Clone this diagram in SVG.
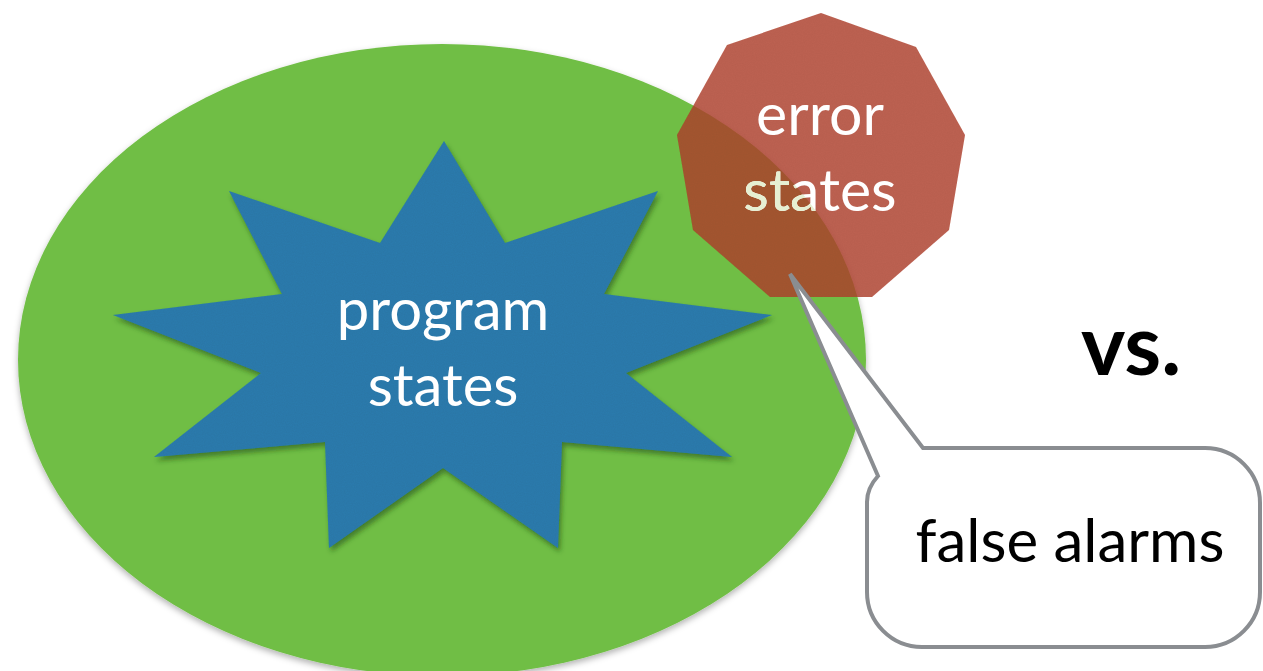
<svg xmlns="http://www.w3.org/2000/svg" width="1263" height="671" viewBox="0 0 1263 671">
  <defs>
    <filter id="ellShadow" x="-10%" y="-10%" width="120%" height="125%">
      <feDropShadow dx="0" dy="3" stdDeviation="3" flood-color="#000" flood-opacity="0.3"/>
    </filter>
    <filter id="starShadow" x="-10%" y="-10%" width="125%" height="125%">
      <feTurbulence type="fractalNoise" baseFrequency="0.9" numOctaves="2" seed="3" result="noise"/>
      <feColorMatrix in="noise" type="matrix" values="0 0 0 0 0  0 0 0 0 0  0 0 0 0 0  0 0 0 0.12 0" result="grain"/>
      <feComposite in="grain" in2="SourceGraphic" operator="in" result="grainIn"/>
      <feMerge result="tex"><feMergeNode in="SourceGraphic"/><feMergeNode in="grainIn"/></feMerge>
      <feDropShadow in="tex" dx="2" dy="4" stdDeviation="2.5" flood-color="#1e4a10" flood-opacity="0.55"/>
    </filter>
    <filter id="grain" x="0" y="0" width="100%" height="100%">
      <feTurbulence type="fractalNoise" baseFrequency="0.9" numOctaves="2" seed="7" result="noise"/>
      <feColorMatrix in="noise" type="matrix" values="0 0 0 0 0  0 0 0 0 0  0 0 0 0 0  0 0 0 0.1 0" result="grain"/>
      <feComposite in="grain" in2="SourceGraphic" operator="in" result="grainIn"/>
      <feMerge><feMergeNode in="SourceGraphic"/><feMergeNode in="grainIn"/></feMerge>
    </filter>
    <clipPath id="ellClip">
      <ellipse cx="442" cy="360" rx="424" ry="316"/>
    </clipPath>
    <style>
      .label { font-family: Lato, "Open Sans", "Liberation Sans", sans-serif; font-weight: 400; text-anchor: middle; }
      .white { fill: #ffffff; }
    </style>
  </defs>

  <rect x="0" y="0" width="1263" height="671" fill="#ffffff"/>

  <g id="program-space">
    <ellipse cx="442" cy="360" rx="424" ry="316" fill="#6fbe44" filter="url(#ellShadow)"/>
  </g>

  <g id="program-states">
    <polygon filter="url(#starShadow)" fill="#2e7daf"
      points="444,141 505,243 658,191 604,294 772,315 626,373 732,457 562,442 558,548 443,468 329,548 325,442 154,457 261,373 113,315 282,294 229,191 380,243"/>
    <text class="label white" x="443" y="330" font-size="58">program</text>
    <text class="label white" x="443" y="406" font-size="58">states</text>
  </g>

  <g id="error-states">
    <polygon fill="#b0402e" fill-opacity="0.82" filter="url(#grain)"
      points="821,13 916,47 965,135 949,230 872,297 770,297 693,230 677,135 727,45"/>
    <text class="label white" x="820" y="135" font-size="59">error</text>
    <text class="label white" x="820" y="211" font-size="59">states</text>
    <text class="label" x="820" y="211" font-size="59" fill="#e6efd2" clip-path="url(#ellClip)">states</text>
  </g>

  <g id="connectors">
    <g id="false-alarms">
      <path d="M 923 448 L 1205 448 A 55 55 0 0 1 1260 503 L 1260 592 A 55 55 0 0 1 1205 647 L 922 647 A 55 55 0 0 1 867 592 L 867 502 Q 867 488 878 476 L 790 274 Z"
        fill="#ffffff" stroke="#8a8d91" stroke-width="4" stroke-linejoin="miter"/>
      <text class="label" x="1070" y="562" font-size="60" fill="#000000">false alarms</text>
    </g>
  </g>

  <g id="vs">
    <text x="1131" y="375" font-family="Lato, 'Open Sans', 'Liberation Sans', sans-serif" font-weight="700" font-size="84" text-anchor="middle" fill="#000000">vs.</text>
  </g>
</svg>
